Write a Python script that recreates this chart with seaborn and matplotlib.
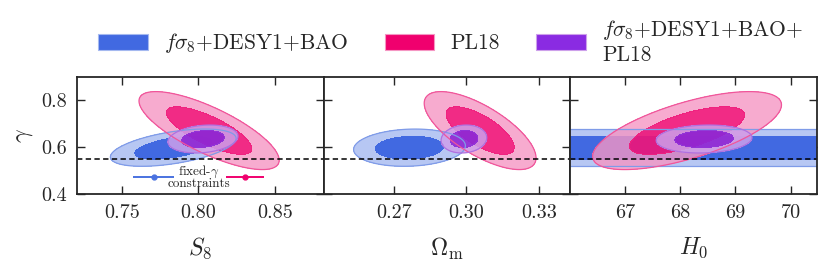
import numpy as np
import matplotlib
matplotlib.use("Agg")
import matplotlib.pyplot as plt
from matplotlib.patches import Patch
import seaborn as sns

sns.set_style("ticks")
plt.rcParams['font.family'] = ['cmr10', 'DejaVu Serif']
plt.rcParams['mathtext.fontset'] = 'cm'
plt.rcParams['axes.formatter.use_mathtext'] = True

# data (1-sigma widths of gaussian posteriors)
labels = [r"$f\sigma_8$+DESY1+BAO", "PL18", "$f\\sigma_8$+DESY1+BAO+\nPL18"]
S8_mean = [0.7836, 0.807, 0.803]
S8_sigma = [0.0165, 0.0184, 0.0092]
Om_mean = [0.2765, 0.3057, 0.299]
Om_sigma = [0.0093, 0.0093, 0.0038]
H0_mean = [68.2, 68.12, 68.43]
H0_sigma = [60.0, 0.69, 0.35]
gamma_mean = [0.598, 0.671, 0.635]
gamma_sigma = [0.032, 0.067, 0.024]
rho_S8 = [0.5, -0.76, 0.2]
rho_Om = [0.1, -0.7, 0.1]
rho_H0 = [0.0, 0.66, 0.1]

gamma_GR = 0.55
# fixed-gamma S8 constraints
fixed_S8 = [0.7708, 0.8305]
fixed_S8_err = [0.0136, 0.0124]
fixed_y = 0.4715

inner_cols = [(65/255, 105/255, 225/255, 1.0), (240/255, 20/255, 120/255, 0.9), (140/255, 40/255, 215/255, 0.9)]
outer_cols = [(165/255, 185/255, 240/255, 0.8), (245/255, 150/255, 195/255, 0.8), (205/255, 160/255, 235/255, 0.85)]
edge_cols = ['#7f9be8', '#f0559a', '#b070e0']
legend_cols = ['#4169e1', '#f0006e', '#8a2be2']

panels = [
    (S8_mean, S8_sigma, rho_S8, (0.7208, 0.8818), [0.75, 0.80, 0.85], "%.2f", r"$S_8$"),
    (Om_mean, Om_sigma, rho_Om, (0.241, 0.343), [0.27, 0.30, 0.33], "%.2f", r"$\Omega_{\rm m}$"),
    (H0_mean, H0_sigma, rho_H0, (66.0, 70.48), [67, 68, 69, 70], "%d", r"$H_0$"),
]

fig, axes = plt.subplots(1, 3, figsize=(8.3, 2.68), dpi=100, sharey=True)
fig.subplots_adjust(left=0.0928, right=0.9843, top=0.7127, bottom=0.2761, wspace=0)

for ax, (xm, xs, rho, xlim, xticks, fmt, xlabel) in zip(axes, panels):
    x = np.linspace(xlim[0], xlim[1], 500)
    y = np.linspace(0.4, 0.9, 500)
    X, Y = np.meshgrid(x, y)
    for i in range(3):
        dx = (X - xm[i]) / xs[i]
        dy = (Y - gamma_mean[i]) / gamma_sigma[i]
        chi2 = (dx**2 - 2 * rho[i] * dx * dy + dy**2) / (1 - rho[i]**2)
        ax.contourf(X, Y, chi2, levels=[2.30, 6.18], colors=[outer_cols[i]])
        ax.contourf(X, Y, chi2, levels=[0, 2.30], colors=[inner_cols[i]])
        ax.contour(X, Y, chi2, levels=[6.18], colors=[edge_cols[i]], linewidths=0.9)
    ax.axhline(gamma_GR, color='k', ls='--', lw=1.1, dashes=(3.5, 2.2))
    ax.set_xlim(xlim)
    ax.set_ylim(0.4, 0.9)
    ax.set_xticks(xticks)
    ax.set_xticklabels([fmt % t for t in xticks])
    ax.set_yticks([0.4, 0.6, 0.8])
    ax.set_yticklabels(["0.4", "0.6", "0.8"])
    ax.tick_params(direction='in', top=True, right=True, length=6, width=1.0,
                   labelsize=14.5, pad=7)
    ax.set_xlabel(xlabel, fontsize=17, labelpad=10)
    for s in ax.spines.values():
        s.set_linewidth(1.3)

axes[0].set_ylabel(r"$\gamma$", fontsize=17, labelpad=5)

# fixed-gamma constraints in the S8 panel
for i in range(2):
    axes[0].errorbar(fixed_S8[i], fixed_y, xerr=fixed_S8_err[i], fmt='o',
                     color=legend_cols[i] if i == 1 else '#4a72e0', ms=3.5, lw=1.4)
axes[0].text(0.8003, 0.473, "fixed-$\\gamma$\nconstraints", ha='center', va='center',
             fontsize=9.5, linespacing=0.85)

handles = [Patch(facecolor=legend_cols[i], edgecolor=outer_cols[i][:3], lw=0.8) for i in range(3)]
fig.legend(handles, labels, loc='center', bbox_to_anchor=(0.543, 0.845), ncol=3,
           frameon=False, fontsize=15.5, handlelength=2.3, handleheight=0.78,
           handletextpad=0.75, columnspacing=1.7, labelspacing=0.2)

fig.savefig("out.png", dpi=100)
